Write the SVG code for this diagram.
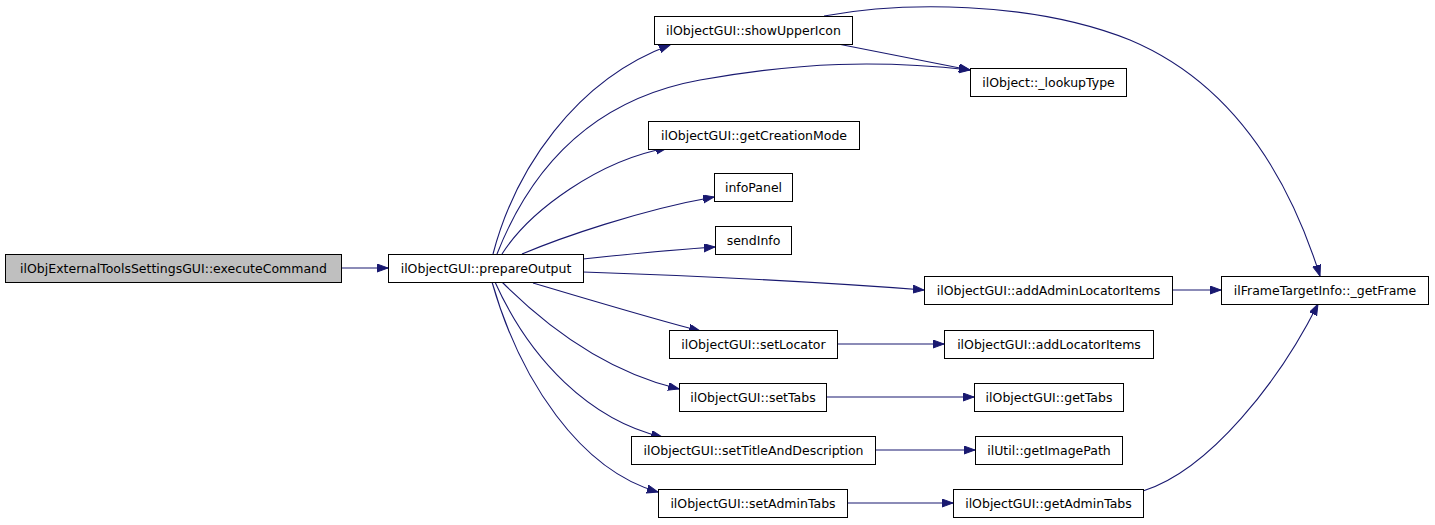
<svg xmlns="http://www.w3.org/2000/svg" width="1435" height="525" viewBox="0 0 1435 525">
<style>
.n rect{fill:#fff;stroke:#000;stroke-width:1}
.n.g rect{fill:#bfbfbf}
.n text{font-family:"DejaVu Sans",sans-serif;font-size:12.5px;fill:#000;text-anchor:middle;dominant-baseline:central}
#edges path{fill:none;stroke:#191970;stroke-width:1.1;marker-end:url(#ah)}
</style>
<defs>
<marker id="ah" markerUnits="userSpaceOnUse" markerWidth="12" markerHeight="9" refX="11" refY="4" orient="auto">
<path d="M0,0 L11,4 L0,8 z" fill="#191970" stroke="#191970" stroke-width="1"/>
</marker>
</defs>
<rect width="1435" height="525" fill="#fff"/>
<g id="edges">
<path d="M341,268 L388,268"/>
<path d="M493,254 C515,170 575,80 670,45"/>
<path d="M497,254 C530,170 590,100 700,80 C800,62 880,60 970,70"/>
<path d="M502,254 C530,210 600,160 667,148"/>
<path d="M522,254 C560,238 640,210 714,197"/>
<path d="M583,259 C630,254 670,250 715,247"/>
<path d="M583,272 C700,276 820,282 924,290"/>
<path d="M533,283 C590,300 650,318 700,331"/>
<path d="M502,282 C540,320 600,370 679,389"/>
<path d="M495,282 C530,360 590,420 662,437"/>
<path d="M492,282 C520,380 580,470 658,492"/>
<path d="M838,44 L970,70"/>
<path d="M824,16 C900,2 1030,0 1130,40 C1225,80 1285,165 1320,276"/>
<path d="M1172,290 L1221,290"/>
<path d="M837,344 L944,344"/>
<path d="M826,397 L974,397"/>
<path d="M875,450 L975,450"/>
<path d="M847,503 L953,503"/>
<path d="M1143,491 C1210,470 1280,380 1318,304"/>
</g>
<g id="executeCommand" class="n g"><rect x="5.5" y="254.5" width="336" height="28"/><text x="173.5" y="268.5">ilObjExternalToolsSettingsGUI::executeCommand</text></g>
<g id="prepareOutput" class="n"><rect x="388.5" y="254.5" width="195" height="28"/><text x="486" y="268.5">ilObjectGUI::prepareOutput</text></g>
<g id="showUpperIcon" class="n"><rect x="654.5" y="16.5" width="198" height="28"/><text x="753.5" y="30.5">ilObjectGUI::showUpperIcon</text></g>
<g id="lookupType" class="n"><rect x="970.5" y="68.5" width="156" height="28"/><text x="1048.5" y="82.5">ilObject::_lookupType</text></g>
<g id="getCreationMode" class="n"><rect x="648.5" y="121.5" width="211" height="28"/><text x="754" y="135.5">ilObjectGUI::getCreationMode</text></g>
<g id="infoPanel" class="n"><rect x="714.5" y="173.5" width="78" height="28"/><text x="753.5" y="187.5">infoPanel</text></g>
<g id="sendInfo" class="n"><rect x="715.5" y="226.5" width="76" height="28"/><text x="753.5" y="240.5">sendInfo</text></g>
<g id="addAdminLocatorItems" class="n"><rect x="924.5" y="276.5" width="248" height="28"/><text x="1048.5" y="290.5">ilObjectGUI::addAdminLocatorItems</text></g>
<g id="getFrame" class="n"><rect x="1221.5" y="276.5" width="207" height="28"/><text x="1325" y="290.5">ilFrameTargetInfo::_getFrame</text></g>
<g id="setLocator" class="n"><rect x="669.5" y="330.5" width="168" height="28"/><text x="753.5" y="344.5">ilObjectGUI::setLocator</text></g>
<g id="addLocatorItems" class="n"><rect x="944.5" y="330.5" width="209" height="28"/><text x="1049" y="344.5">ilObjectGUI::addLocatorItems</text></g>
<g id="setTabs" class="n"><rect x="679.5" y="383.5" width="147" height="28"/><text x="753" y="397.5">ilObjectGUI::setTabs</text></g>
<g id="getTabs" class="n"><rect x="974.5" y="383.5" width="149" height="28"/><text x="1049" y="397.5">ilObjectGUI::getTabs</text></g>
<g id="setTitleAndDescription" class="n"><rect x="631.5" y="436.5" width="244" height="28"/><text x="753.5" y="450.5">ilObjectGUI::setTitleAndDescription</text></g>
<g id="getImagePath" class="n"><rect x="975.5" y="436.5" width="147" height="28"/><text x="1049" y="450.5">ilUtil::getImagePath</text></g>
<g id="setAdminTabs" class="n"><rect x="658.5" y="489.5" width="189" height="28"/><text x="753" y="503.5">ilObjectGUI::setAdminTabs</text></g>
<g id="getAdminTabs" class="n"><rect x="953.5" y="489.5" width="190" height="28"/><text x="1048.5" y="503.5">ilObjectGUI::getAdminTabs</text></g>
</svg>
